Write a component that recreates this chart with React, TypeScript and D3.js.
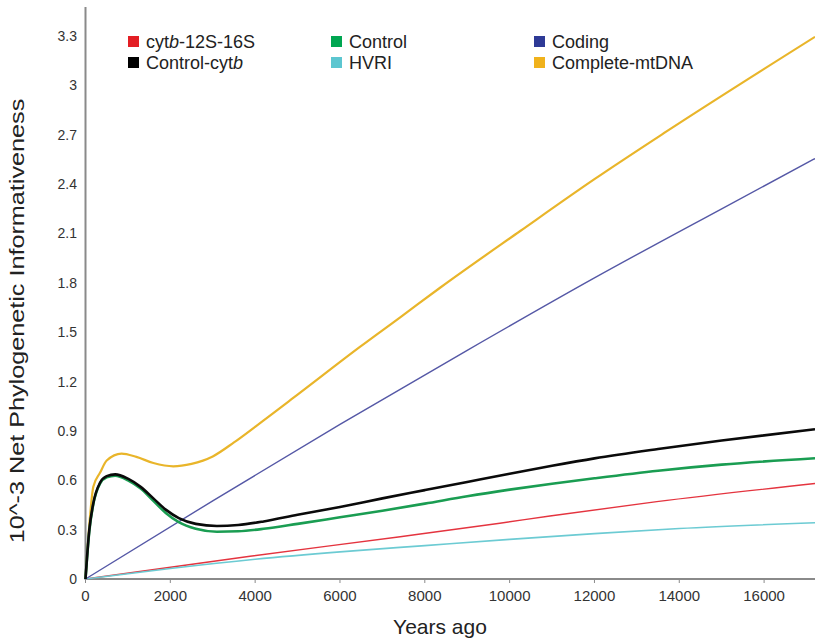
import React from 'react';
import * as d3 from 'd3';

// ---- data (years ago -> 10^-3 net phylogenetic informativeness) ----
const cytbYears = [0, 3880, 7420, 9770, 10950, 13470, 17200];
const cytbValues = [0, 0.138, 0.257, 0.339, 0.383, 0.47, 0.58];

const hvriYears = [0, 2000, 4000, 6000, 8000, 10000, 12000, 14000, 17200];
const hvriValues = [0, 0.064, 0.12, 0.165, 0.203, 0.241, 0.276, 0.307, 0.342];

const codingYears = [0, 3000, 6000, 9000, 12000, 15000, 17200];
const codingValues = [0, 0.475, 0.94, 1.39, 1.83, 2.25, 2.555];

const completeYears = [0, 100, 184, 342, 500, 850, 1200, 1600, 2070, 2500, 3000, 3500, 4000, 5000, 6470, 7420, 8360, 10250, 12000, 13700, 17200];
const completeValues = [0, 0.36, 0.56, 0.645, 0.72, 0.762, 0.742, 0.705, 0.685, 0.7, 0.745, 0.83, 0.925, 1.12, 1.41, 1.59, 1.77, 2.115, 2.43, 2.72, 3.295];

const controlYears = [0, 90, 184, 342, 500, 700, 1000, 1300, 1600, 1900, 2200, 2600, 3100, 3600, 4200, 5000, 6000, 7000, 8000, 9000, 10000, 11000, 12000, 13500, 15000, 17200];
const controlValues = [0, 0.29, 0.455, 0.58, 0.618, 0.628, 0.6, 0.55, 0.475, 0.4, 0.345, 0.305, 0.287, 0.29, 0.305, 0.335, 0.375, 0.415, 0.458, 0.503, 0.543, 0.579, 0.612, 0.658, 0.695, 0.734];

const controlCytbYears = [0, 90, 184, 342, 500, 700, 1000, 1300, 1600, 1900, 2200, 2600, 3100, 3600, 4200, 5000, 6000, 7000, 8000, 9000, 10000, 11000, 12000, 13500, 15000, 17200];
const controlCytbValues = [0, 0.3, 0.46, 0.585, 0.625, 0.636, 0.61, 0.56, 0.49, 0.42, 0.37, 0.335, 0.322, 0.328, 0.35, 0.39, 0.438, 0.49, 0.54, 0.59, 0.64, 0.688, 0.733, 0.79, 0.842, 0.91];

const xTickValues = [0, 2000, 4000, 6000, 8000, 10000, 12000, 14000, 16000];
const yTickLabels = ['0', '0.3', '0.6', '0.9', '1.2', '1.5', '1.8', '2.1', '2.4', '2.7', '3', '3.3'];

const FONT = '"Liberation Sans", Arial, Helvetica, sans-serif';

type Series = {
  key: string;
  years: number[];
  values: number[];
  color: string;
  width: number;
};

const seriesList: Series[] = [
  { key: 'cytb', years: cytbYears, values: cytbValues, color: '#e4343f', width: 1.4 },
  { key: 'hvri', years: hvriYears, values: hvriValues, color: '#6ccbd3', width: 1.6 },
  { key: 'coding', years: codingYears, values: codingValues, color: '#5558a6', width: 1.4 },
  { key: 'complete', years: completeYears, values: completeValues, color: '#e9b52a', width: 2.2 },
  { key: 'control', years: controlYears, values: controlValues, color: '#1a9d52', width: 2.6 },
  { key: 'controlcytb', years: controlCytbYears, values: controlCytbValues, color: '#0a0a0a', width: 2.6 },
];

export default function App() {
  const width = 815;
  const height = 640;
  const x = d3.scaleLinear().domain([0, 17200]).range([85.5, 815]);
  const y = d3.scaleLinear().domain([0, 3.3]).range([579, 36]);
  const yAxisTop = y.invert(7);

  const line = d3
    .line<[number, number]>()
    .x((d) => x(d[0]))
    .y((d) => y(d[1]))
    .curve(d3.curveMonotoneX);

  const legendRows = [
    { col: 0, row: 0, color: '#e31e24', label: (<>cyt<tspan fontStyle="italic">b</tspan>-12S-16S</>) },
    { col: 0, row: 1, color: '#000000', label: (<>Control-cyt<tspan fontStyle="italic">b</tspan></>) },
    { col: 1, row: 0, color: '#00a651', label: (<>Control</>) },
    { col: 1, row: 1, color: '#5cc6d0', label: (<>HVRI</>) },
    { col: 2, row: 0, color: '#2e3a96', label: (<>Coding</>) },
    { col: 2, row: 1, color: '#f0b21c', label: (<>Complete-mtDNA</>) },
  ];
  const colX = [128, 331, 534];
  const rowY = [36, 57];

  return (
    <svg
      width={width}
      height={height}
      style={{ position: 'absolute', left: 0, top: 0, background: '#fff' }}
      fontFamily={FONT}
    >
      <rect x={0} y={0} width={width} height={height} fill="#fff" />

      {/* axes */}
      <line x1={x(0)} x2={x(0)} y1={y(0)} y2={y(yAxisTop)} stroke="#8a8a8a" strokeWidth={2} />
      <line x1={x(0) - 1} x2={width} y1={y(0)} y2={y(0)} stroke="#8a8a8a" strokeWidth={2} />

      {xTickValues.map((t) => (
        <g key={t}>
          <line x1={x(t)} x2={x(t)} y1={y(0)} y2={y(0) + 4} stroke="#8a8a8a" strokeWidth={1} />
          <text x={x(t)} y={601} textAnchor="middle" fontSize={15} fill="#333">
            {t}
          </text>
        </g>
      ))}

      {yTickLabels.map((t) => (
        <text key={t} x={77} y={y(parseFloat(t)) + 5} textAnchor="end" fontSize={14} fill="#333">
          {t}
        </text>
      ))}

      {/* axis titles */}
      <text x={440} y={634} textAnchor="middle" fontSize={21} fill="#222">
        Years ago
      </text>
      <text
        transform={`translate(24,321) rotate(-90) scale(1.2,1)`}
        textAnchor="middle"
        fontSize={21}
        fill="#222"
      >
        10^-3 Net Phylogenetic Informativeness
      </text>

      {/* series */}
      {seriesList.map((s) => {
        const pts = s.years.map((yr, i) => [yr, s.values[i]] as [number, number]);
        return (
          <path
            key={s.key}
            d={line(pts) || ''}
            fill="none"
            stroke={s.color}
            strokeWidth={s.width}
            strokeLinejoin="round"
          />
        );
      })}

      {/* legend */}
      {legendRows.map((l, i) => (
        <g key={i}>
          <rect x={colX[l.col]} y={rowY[l.row]} width={11} height={11} fill={l.color} />
          <text x={colX[l.col] + 18} y={rowY[l.row] + 11.5} fontSize={18} fill="#222">
            {l.label}
          </text>
        </g>
      ))}
    </svg>
  );
}
